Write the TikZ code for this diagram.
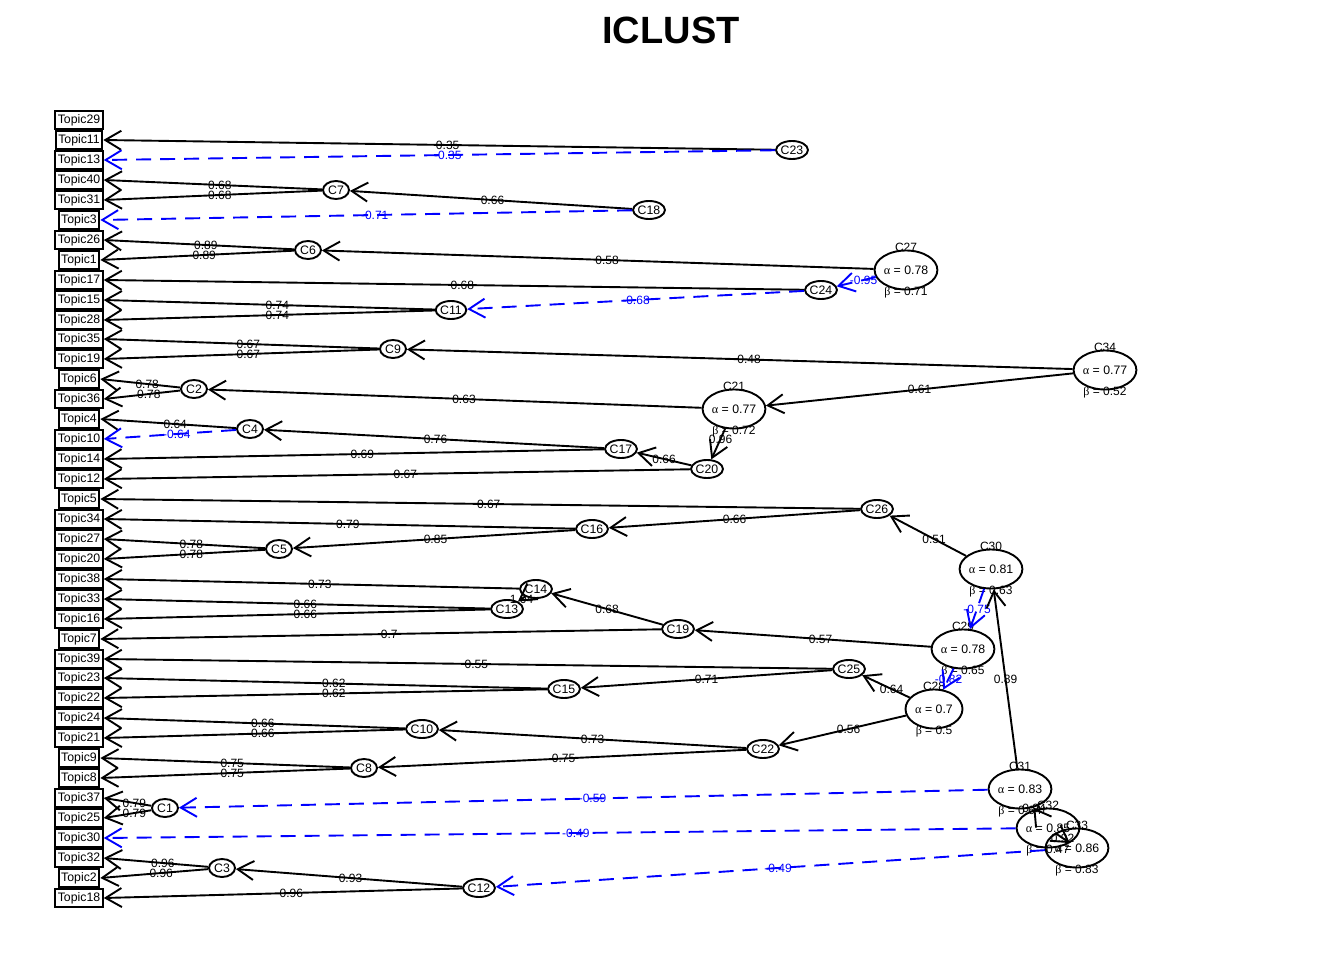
\documentclass[tikz,border=0pt]{standalone}
\usepackage{fontspec}
\setmainfont{Liberation Sans}
\newfontfamily\grk{Liberation Serif}
\usetikzlibrary{arrows.meta,shapes.geometric,calc}
\newcommand\edgep[3]{\draw[posedge] (#1) -- (#2); \node[lab] at ($(#1)!0.5!(#2)$) {#3};}
\newcommand\edgen[3]{\draw[negedge] (#1) -- (#2); \node[nlab] at ($(#1)!0.5!(#2)$) {#3};}
\newcommand\bigc[5]{\node[bclu] (#1) at (#2,#3) {{\grk α} = #4}; \node[lab] at (#2,#3-23) {#1}; \node[lab] at (#2,#3+23) {{\grk β} = #5};}
\newcommand\smc[3]{\node[sclu] (#1) at (#2,#3) {#1};}
\newcommand\tpc[3]{\node[topic] (T#1) at (79,#2) {Topic#1};}
\begin{document}
\begin{tikzpicture}[x=1pt,y=-1pt,
  every node/.style={font=\fontsize{12.3}{13}\selectfont},
  topic/.style={draw, line width=2pt, minimum height=18pt, inner xsep=2.6pt, inner ysep=0pt},
  sclu/.style={ellipse, draw, line width=1.9pt, minimum width=26pt, minimum height=18pt, inner sep=0pt},
  bclu/.style={ellipse, draw, line width=1.9pt, minimum width=57pt, minimum height=39pt, inner sep=0pt},
  posedge/.style={line width=1.9pt, -{Straight Barb[length=16pt,width=19pt]}},
  negedge/.style={posedge, blue, dash pattern=on 15pt off 9pt},
  lab/.style={inner sep=0pt, font=\fontsize{12}{13}\selectfont},
  nlab/.style={lab, text=blue},
]
\useasboundingbox (0,0) rectangle (1344,960);
\node[font=\fontsize{38}{40}\selectfont\bfseries] (title) at (671,30) {ICLUST};
% topics
\tpc{29}{120}{}
\tpc{11}{140}{}
\tpc{13}{160}{}
\tpc{40}{180}{}
\tpc{31}{200}{}
\tpc{3}{220}{}
\tpc{26}{240}{}
\tpc{1}{260}{}
\tpc{17}{280}{}
\tpc{15}{300}{}
\tpc{28}{320}{}
\tpc{35}{339}{}
\tpc{19}{359}{}
\tpc{6}{379}{}
\tpc{36}{399}{}
\tpc{4}{419}{}
\tpc{10}{439}{}
\tpc{14}{459}{}
\tpc{12}{479}{}
\tpc{5}{499}{}
\tpc{34}{519}{}
\tpc{27}{539}{}
\tpc{20}{559}{}
\tpc{38}{579}{}
\tpc{33}{599}{}
\tpc{16}{619}{}
\tpc{7}{639}{}
\tpc{39}{659}{}
\tpc{23}{678}{}
\tpc{22}{698}{}
\tpc{24}{718}{}
\tpc{21}{738}{}
\tpc{9}{758}{}
\tpc{8}{778}{}
\tpc{37}{798}{}
\tpc{25}{818}{}
\tpc{30}{838}{}
\tpc{32}{858}{}
\tpc{2}{878}{}
\tpc{18}{898}{}
% clusters
\smc{C1}{165}{808}
\smc{C2}{194}{389}
\smc{C3}{222}{868}
\smc{C4}{250}{429}
\smc{C5}{279}{549}
\smc{C6}{308}{250}
\smc{C7}{336}{190}
\smc{C8}{364}{768}
\smc{C9}{393}{349}
\smc{C10}{422}{729}
\smc{C11}{451}{310}
\smc{C12}{479}{888}
\smc{C13}{507}{609}
\smc{C14}{536}{589}
\smc{C15}{564}{689}
\smc{C16}{592}{529}
\smc{C17}{621}{449}
\smc{C18}{649}{210}
\smc{C19}{678}{629}
\smc{C20}{707}{469}
\bigc{C21}{734}{409}{0.77}{0.72}
\smc{C22}{763}{749}
\smc{C23}{792}{150}
\smc{C24}{821}{290}
\smc{C25}{849}{669}
\smc{C26}{877}{509}
\bigc{C27}{906}{270}{0.78}{0.71}
\bigc{C28}{934}{709}{0.7}{0.5}
\bigc{C29}{963}{649}{0.78}{0.65}
\bigc{C30}{991}{569}{0.81}{0.63}
\bigc{C31}{1020}{789}{0.83}{0.64}
\bigc{C32}{1048}{828}{0.85}{0.47}
\bigc{C33}{1077}{848}{0.86}{0.83}
\bigc{C34}{1105}{370}{0.77}{0.52}
% edges
\edgep{C23}{T11.east}{0.35}
\edgen{C23}{T13.east}{-0.35}
\edgep{C7}{T40.east}{0.68}
\edgep{C7}{T31.east}{0.68}
\edgep{C18}{C7}{0.66}
\edgen{C18}{T3.east}{-0.71}
\edgep{C6}{T26.east}{0.89}
\edgep{C6}{T1.east}{0.89}
\edgep{C11}{T15.east}{0.74}
\edgep{C11}{T28.east}{0.74}
\edgep{C24}{T17.east}{0.68}
\edgen{C24}{C11}{-0.68}
\edgep{C27}{C6}{0.58}
\edgen{C27}{C24}{-0.95}
\edgep{C9}{T35.east}{0.67}
\edgep{C9}{T19.east}{0.67}
\edgep{C34}{C9}{0.48}
\edgep{C34}{C21}{0.61}
\edgep{C2}{T6.east}{0.78}
\edgep{C2}{T36.east}{0.78}
\edgep{C21}{C2}{0.63}
\edgep{C21}{C20}{0.96}
\edgep{C4}{T4.east}{0.64}
\edgen{C4}{T10.east}{-0.64}
\edgep{C17}{C4}{0.76}
\edgep{C17}{T14.east}{0.69}
\edgep{C20}{C17}{0.66}
\edgep{C20}{T12.east}{0.67}
\edgep{C26}{T5.east}{0.67}
\edgep{C26}{C16}{0.66}
\edgep{C16}{T34.east}{0.79}
\edgep{C16}{C5}{0.85}
\edgep{C5}{T27.east}{0.78}
\edgep{C5}{T20.east}{0.78}
\edgep{C30}{C26}{0.51}
\edgen{C30}{C29}{-0.75}
\edgep{C14}{T38.east}{0.73}
\edgep{C14}{C13}{1.04}
\edgep{C13}{T33.east}{0.66}
\edgep{C13}{T16.east}{0.66}
\edgep{C19}{C14}{0.68}
\edgep{C19}{T7.east}{0.7}
\edgep{C29}{C19}{0.57}
\edgen{C29}{C28}{-0.82}
\edgep{C28}{C25}{0.64}
\edgep{C28}{C22}{0.56}
\edgep{C25}{T39.east}{0.55}
\edgep{C25}{C15}{0.71}
\edgep{C15}{T23.east}{0.62}
\edgep{C15}{T22.east}{0.62}
\edgep{C22}{C10}{0.73}
\edgep{C22}{C8}{0.75}
\edgep{C10}{T24.east}{0.66}
\edgep{C10}{T21.east}{0.66}
\edgep{C8}{T9.east}{0.75}
\edgep{C8}{T8.east}{0.75}
\edgep{C31}{C30}{0.89}
\edgen{C31}{C1}{-0.59}
\edgep{C1}{T37.east}{0.79}
\edgep{C1}{T25.east}{0.79}
\edgep{C32}{C31}{0.94}
\edgen{C32}{T30.east}{-0.49}
\edgep{C33}{C32}{0.92}
\edgen{C33}{C12}{-0.49}
\edgep{C12}{C3}{0.93}
\edgep{C12}{T18.east}{0.96}
\edgep{C3}{T32.east}{0.96}
\edgep{C3}{T2.east}{0.96}
\end{tikzpicture}
\end{document}
